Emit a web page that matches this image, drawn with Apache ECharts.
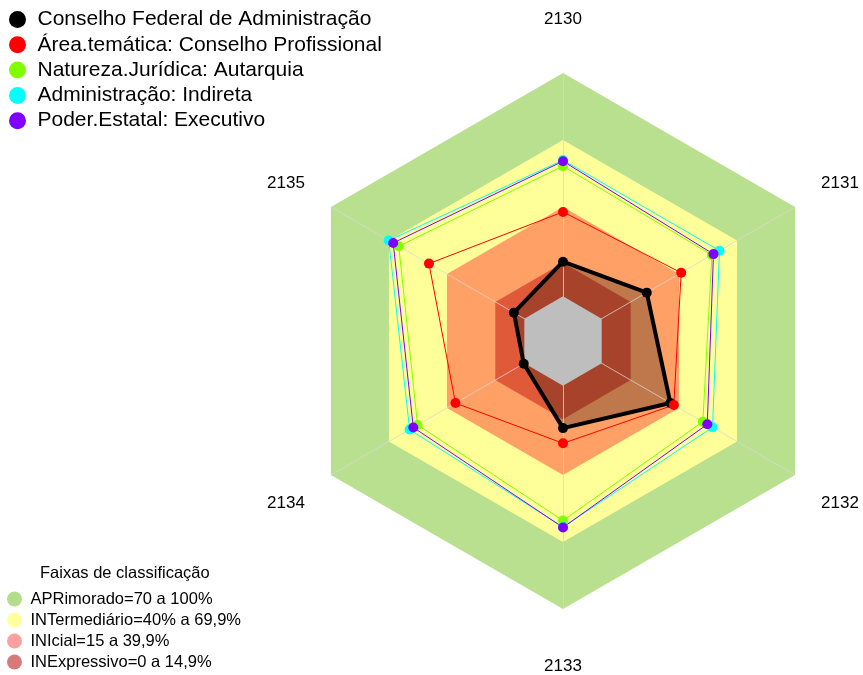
<!DOCTYPE html>
<html>
<head>
<meta charset="utf-8">
<script src="https://cdn.jsdelivr.net/npm/echarts@6/dist/echarts.min.js"></script>
<style>
  html, body { margin: 0; padding: 0; background: #fff; }
  #chart { width: 863px; height: 675px; }
</style>
</head>
<body>
<div id="chart"></div>
<script>
// eixos na ordem anti-horaria (echarts gira anti-horario a partir do topo)
const eixos = ["2130", "2135", "2134", "2133", "2132", "2131"];

// valores por eixo, mesma ordem de eixos
const conselhoFederal = [15.5, 5.4, 0.3, 19, 35.5, 23.3];
const areaTematica = [37.8, 49.3, 35.6, 25.8, 37.3, 41.1];
const naturezaJuridica = [58.3, 64.9, 55.2, 60.4, 52.3, 57];
const administracao = [61, 70.1, 59.3, 63.3, 57.3, 60.9];
const poderEstatal = [60.5, 67.8, 57.4, 63.5, 54.6, 57.8];

const nomesSeries = [
  "Conselho Federal de Administração",
  "Área.temática: Conselho Profissional",
  "Natureza.Jurídica: Autarquia",
  "Administração: Indireta",
  "Poder.Estatal: Executivo"
];
const coresSeries = ["#000000", "#ff0000", "#80ff00", "#00ffff", "#8000ff"];

// faixas de classificacao
const faixasNomes = [
  "APRimorado=70 a 100%",
  "INTermediário=40% a 69,9%",
  "INIcial=15 a 39,9%",
  "INExpressivo=0 a 14,9%"
];
const faixasLimites = [100, 70, 40, 15];
const faixasCores = ["#b9e08f", "#ffff99", "#ffa066", "#e05a3a"];
const faixasCoresLegenda = ["#b3de8a", "#ffff9e", "#ffa0a0", "#d97a7a"];

const fonte = "Liberation Sans, Arial, sans-serif";

function linha(v) {
  return eixos.map(() => v);
}

// deslocamento dos rotulos dos eixos (estilo rich por posicao)
function estiloRotulo(nome) {
  let i = eixos.indexOf(nome);
  if (i === 0) return "topo";
  if (i === 3) return "base";
  if (i === 1 || i === 5) return "cima";
  return "baixo";
}

let serieDados = [conselhoFederal, areaTematica, naturezaJuridica, administracao, poderEstatal];

let options = {
  animation: false,
  textStyle: { fontFamily: fonte },
  title: {
    text: "Faixas de classificação",
    left: 35,
    top: 560,
    textStyle: { fontSize: 16.5, fontWeight: "normal", color: "#000", fontFamily: fonte }
  },
  legend: [
    {
      orient: "vertical",
      left: 9,
      top: 9,
      padding: 0,
      icon: "circle",
      itemWidth: 30,
      itemHeight: 17,
      itemGap: 4.3,
      selectedMode: false,
      textStyle: { fontSize: 21, color: "#000", fontFamily: fonte },
      data: nomesSeries
    },
    {
      orient: "vertical",
      left: 7,
      top: 590.5,
      padding: 0,
      icon: "circle",
      itemWidth: 22,
      itemHeight: 15,
      itemGap: 4,
      selectedMode: false,
      textStyle: { fontSize: 16.5, color: "#000", fontFamily: fonte },
      data: faixasNomes.map((n, i) => ({ name: n, itemStyle: { color: faixasCoresLegenda[i] } }))
    }
  ],
  radar: {
    center: [563, 341],
    radius: 268,
    shape: "polygon",
    startAngle: 90,
    z: 3,
    nameGap: 30,
    axisName: {
      color: "#000",
      fontSize: 17,
      fontFamily: fonte,
      formatter: function(nome) {
        return "{" + estiloRotulo(nome) + "|" + nome + "}";
      },
      rich: {
        topo: { fontSize: 17, color: "#000", fontFamily: fonte, padding: [0, 0, 15, 0] },
        base: { fontSize: 17, color: "#000", fontFamily: fonte, padding: [19, 0, 0, 0] },
        cima: { fontSize: 17, color: "#000", fontFamily: fonte, padding: [0, 0, 18, 0] },
        baixo: { fontSize: 17, color: "#000", fontFamily: fonte, padding: [26, 0, 0, 0] }
      }
    },
    indicator: eixos.map(e => ({ name: e, min: -20, max: 100 })),
    splitNumber: 6,
    splitLine: { show: false },
    splitArea: { show: false },
    axisLine: { lineStyle: { color: "rgba(215,215,215,0.75)", width: 1 } },
    axisTick: { show: false },
    axisLabel: { show: false }
  },
  series: [
    {
      // faixas de fundo
      type: "radar",
      z: 1,
      silent: true,
      symbol: "none",
      data: faixasNomes.map((n, i) => ({
        name: n,
        value: linha(faixasLimites[i]),
        lineStyle: { width: 0, opacity: 0 },
        itemStyle: { color: faixasCores[i] },
        areaStyle: { color: faixasCores[i], opacity: 1 }
      }))
    },
    {
      // preenchimento da serie principal
      type: "radar",
      z: 2,
      silent: true,
      symbol: "none",
      data: [{
        value: conselhoFederal,
        lineStyle: { width: 0, opacity: 0 },
        areaStyle: { color: "rgba(0,0,0,0.25)", opacity: 1 }
      }]
    },
    {
      // miolo cinza
      type: "radar",
      z: 4,
      silent: true,
      symbol: "none",
      data: [{
        value: linha(0),
        lineStyle: { width: 0, opacity: 0 },
        areaStyle: { color: "#bebebe", opacity: 1 }
      }]
    },
    {
      type: "radar",
      z: 5,
      symbol: "circle",
      data: serieDados.map((d, i) => ({
        name: nomesSeries[i],
        value: d,
        symbolSize: 10,
        itemStyle: { color: coresSeries[i] },
        lineStyle: { color: coresSeries[i], width: i === 0 ? 4 : 1 }
      }))
    }
  ]
};

let mycharts = echarts.init(document.getElementById("chart"));
mycharts.setOption(options, true);
</script>
</body>
</html>
